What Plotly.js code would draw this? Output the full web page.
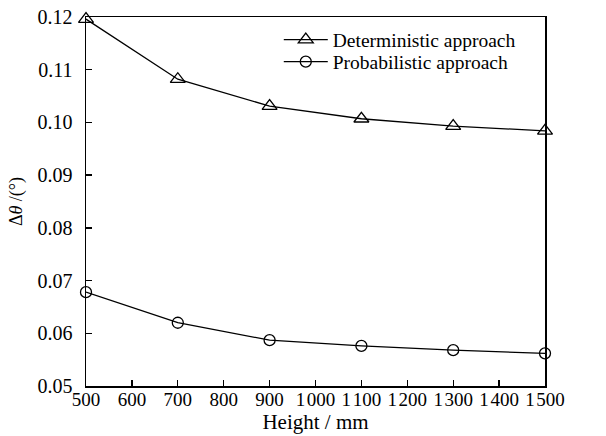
<!DOCTYPE html>
<html>
<head>
<meta charset="utf-8">
<script src="https://cdn.plot.ly/plotly-3.0.1.min.js"></script>
<style>html,body{margin:0;padding:0;background:#fff;}#chart{width:606px;height:436px;}</style>
</head>
<body>
<div id="chart"></div>
<script>
const heights = [500, 700, 900, 1100, 1300, 1500];
const deterministic = [0.1196, 0.1082, 0.1031, 0.1007, 0.0993, 0.0984];
const probabilistic = [0.0678, 0.0620, 0.0587, 0.0576, 0.0568, 0.0562];
const xTickVals = [500, 600, 700, 800, 900, 1000, 1100, 1200, 1300, 1400, 1500];
const xTickText = ["500", "600", "700", "800", "900", "1\u200A000", "1\u200A100", "1\u200A200", "1\u200A300", "1\u200A400", "1\u200A500"];

const font = "'Liberation Serif', 'Times New Roman', serif";
const traces = [
  {x: heights, y: deterministic, name: "Deterministic approach", type: "scatter", mode: "lines+markers",
   line: {color: "#000", width: 1.3}, cliponaxis: false, legend: "legend",
   marker: {symbol: "triangle-up-open", size: 13, color: "#000", line: {color: "#000", width: 1.3}}},
  {x: heights, y: probabilistic, name: "Probabilistic approach", type: "scatter", mode: "lines+markers",
   line: {color: "#000", width: 1.3}, cliponaxis: false, legend: "legend2",
   marker: {symbol: "circle-open", size: 11, color: "#000", line: {color: "#000", width: 1.3}}}
];
const legendCommon = {xanchor: "left", yanchor: "middle", bgcolor: "rgba(0,0,0,0)", itemwidth: 44,
                      font: {family: font, size: 19.5, color: "#000"}};
const layout = {
  width: 606, height: 436,
  margin: {l: 86, r: 61, t: 17, b: 50},
  paper_bgcolor: "#fff", plot_bgcolor: "#fff",
  font: {family: font, color: "#000", size: 20},
  showlegend: true,
  legend: Object.assign({x: 0.42, y: 0.938}, legendCommon),
  legend2: Object.assign({x: 0.42, y: 0.878}, legendCommon),
  xaxis: {range: [500, 1500], tickvals: xTickVals, ticktext: xTickText, tickangle: 0,
          ticks: "inside", ticklen: 6, tickwidth: 1.3, tickcolor: "#000",
          showline: true, linecolor: "#000", linewidth: 1.5, mirror: true,
          showgrid: false, zeroline: false, automargin: false, ticklabelstandoff: -4,
          tickfont: {family: font, size: 19, color: "#000"},
          title: {text: "Height / mm", font: {family: font, size: 21, color: "#000"}, standoff: 4}},
  yaxis: {range: [0.05, 0.12], dtick: 0.01, tick0: 0.05, tickformat: ".2f",
          ticks: "inside", ticklen: 6, tickwidth: 1.3, tickcolor: "#000",
          showline: true, linecolor: "#000", linewidth: 1.5, mirror: true,
          showgrid: false, zeroline: false, automargin: false, ticklabelstandoff: 8,
          tickfont: {family: font, size: 20, color: "#000"},
          title: {text: "Δ<i>θ</i> /(°)", font: {family: font, size: 18, color: "#000"}, standoff: 10}}
};
Plotly.newPlot("chart", traces, layout, {displayModeBar: false, staticPlot: true});
</script>
</body>
</html>
